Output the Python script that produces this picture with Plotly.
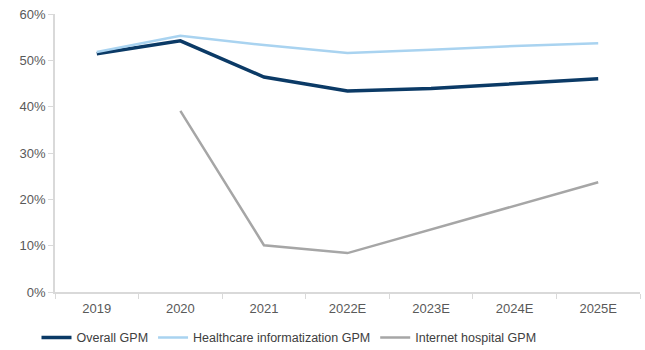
import plotly.graph_objects as go

years = ["2019", "2020", "2021", "2022E", "2023E", "2024E", "2025E"]
overall_gpm = [51.4, 54.2, 46.4, 43.4, 43.9, 44.9, 46.0]
healthcare_it_gpm = [51.8, 55.3, 53.3, 51.6, 52.3, 53.1, 53.7]
internet_hospital_gpm = [None, 39.1, 10.1, 8.4, 13.5, 18.6, 23.7]

fig = go.Figure()
fig.add_trace(go.Scatter(x=years, y=overall_gpm, mode="lines", name="Overall GPM",
                         line=dict(color="#0b3a66", width=3.5)))
fig.add_trace(go.Scatter(x=years, y=healthcare_it_gpm, mode="lines", name="Healthcare informatization GPM",
                         line=dict(color="#a9d3f0", width=2.5)))
fig.add_trace(go.Scatter(x=years, y=internet_hospital_gpm, mode="lines", name="Internet hospital GPM",
                         line=dict(color="#a6a6a6", width=2.5)))

font = dict(family="Liberation Sans, Arial, sans-serif", size=13, color="#595959")
fig.update_layout(
    width=645, height=350,
    margin=dict(l=55, r=5, t=14, b=58, autoexpand=False),
    paper_bgcolor="white", plot_bgcolor="white",
    font=font,
    showlegend=True,
    legend=dict(orientation="h", x=0.4, xanchor="center", yref="container", y=0.035,
                yanchor="middle", font=dict(size=12.5, color="#404040"),
                itemwidth=30, tracegroupgap=0),
)
fig.update_xaxes(showgrid=False, showline=True, linecolor="#d9d9d9", linewidth=1.5,
                 ticks="outside", tickcolor="#d9d9d9", ticklen=5, tickson="boundaries",
                 ticklabelstandoff=4, tickfont=font, range=[-0.5, 6.5])
fig.update_yaxes(range=[0, 60], dtick=10, ticksuffix="%", showgrid=False, showline=True,
                 linecolor="#d9d9d9", linewidth=1.5, ticks="outside", tickcolor="#d9d9d9",
                 ticklen=5, zeroline=False, tickfont=font)

fig.write_html("out.html")
